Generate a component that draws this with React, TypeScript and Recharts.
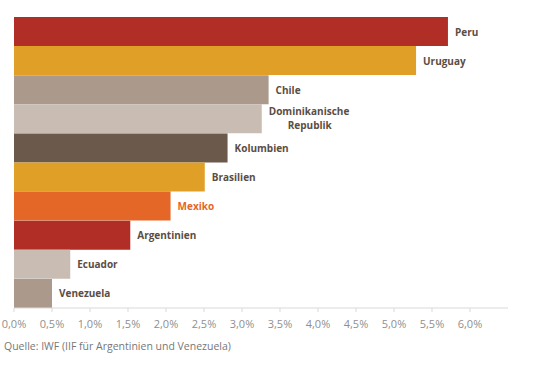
import React from 'react';
import { BarChart, Bar, XAxis, YAxis, Cell, LabelList } from 'recharts';

const COUNTRIES = [
  'Peru',
  'Uruguay',
  'Chile',
  'Dominikanische Republik',
  'Kolumbien',
  'Brasilien',
  'Mexiko',
  'Argentinien',
  'Ecuador',
  'Venezuela',
];
const GROWTH = [5.71, 5.29, 3.35, 3.26, 2.81, 2.51, 2.06, 1.53, 0.74, 0.5];
const COLORS = [
  '#b12e26',
  '#e09f27',
  '#ab998b',
  '#c9bcb3',
  '#6b5a4b',
  '#e09f27',
  '#e56727',
  '#b12e26',
  '#c9bcb3',
  '#ab998b',
];
const TICKS = [0, 0.5, 1, 1.5, 2, 2.5, 3, 3.5, 4, 4.5, 5, 5.5, 6];
const SOURCE = 'Quelle: IWF (IIF für Argentinien und Venezuela)';

const data = COUNTRIES.map((name, i) => ({ name, value: GROWTH[i], color: COLORS[i] }));

const FONT = '"Open Sans", sans-serif';

const renderLabel = (props: any) => {
  const { x, y, width, height, index } = props;
  const name = COUNTRIES[index];
  const fill = name === 'Mexiko' ? '#e56727' : '#5b4d44';
  const lx = x + width + 7;
  const cy = y + height / 2;
  if (name === 'Dominikanische Republik') {
    return (
      <text x={lx} y={cy} fill={fill} fontSize={10} fontWeight={700} fontFamily={FONT}>
        <tspan x={lx} dy={-4}>Dominikanische</tspan>
        <tspan x={lx + 19} dy={14}>Republik</tspan>
      </text>
    );
  }
  return (
    <text x={lx} y={cy} dy={4} fill={fill} fontSize={10} fontWeight={700} fontFamily={FONT}>
      {name}
    </text>
  );
};

export default function App() {
  return (
    <div style={{ position: 'absolute', left: 0, top: 0, width: 537, height: 366, background: '#fff' }}>
      <BarChart
        width={537}
        height={366}
        data={data}
        layout="vertical"
        barCategoryGap={0}
        margin={{ top: 17, right: 29, bottom: 28, left: 14 }}
      >
        <XAxis
          type="number"
          domain={[0, 6.5]}
          ticks={TICKS}
          interval={0}
          tickFormatter={(v: number) => v.toFixed(1).replace('.', ',') + '%'}
          axisLine={{ stroke: '#d9d9d9' }}
          tickLine={{ stroke: '#d9d9d9' }}
          tickSize={4}
          tickMargin={8}
          tick={{ fill: '#8f8f8f', fontSize: 11, fontFamily: FONT }}
          height={30}
        />
        <YAxis type="category" dataKey="name" hide width={0} />
        <Bar dataKey="value" isAnimationActive={false}>
          {data.map((d, i) => (
            <Cell key={i} fill={d.color} />
          ))}
          <LabelList dataKey="value" content={renderLabel} />
        </Bar>
      </BarChart>
      <div
        style={{
          position: 'absolute',
          left: 4,
          top: 339,
          fontFamily: FONT,
          fontSize: 10.5,
          color: '#777',
          whiteSpace: 'nowrap',
        }}
      >
        {SOURCE}
      </div>
    </div>
  );
}
